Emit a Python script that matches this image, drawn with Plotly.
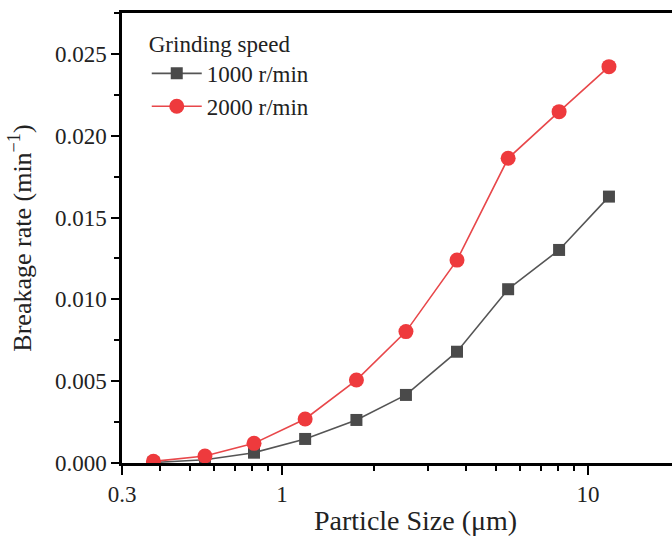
import plotly.graph_objects as go
import math

particle_size = [0.38, 0.56, 0.81, 1.19, 1.75, 2.54, 3.73, 5.48, 8.04, 11.7]
rate_1000 = [0.00003, 0.0002, 0.00063, 0.00147, 0.00263, 0.00416, 0.0068, 0.01062, 0.01302, 0.01628]
rate_2000 = [0.0001, 0.00043, 0.0012, 0.00269, 0.00507, 0.00803, 0.0124, 0.01862, 0.02147, 0.02422]
series_names = ["1000 r/min", "2000 r/min"]
x_ticks = [0.3, 1, 10]
x_minor = [0.4, 0.5, 0.6, 0.7, 0.8, 0.9, 2, 3, 4, 5, 6, 7, 8, 9, 20]
y_ticks = [0.0, 0.005, 0.010, 0.015, 0.020, 0.025]

FONT = "Liberation Serif"

fig = go.Figure()
fig.add_trace(go.Scatter(
    x=particle_size, y=rate_1000, name=series_names[0], mode="lines+markers",
    line=dict(color="#555555", width=1.6),
    marker=dict(symbol="square", size=12, color="#4a4a4a"),
))
fig.add_trace(go.Scatter(
    x=particle_size, y=rate_2000, name=series_names[1], mode="lines+markers",
    line=dict(color="#e8474a", width=1.6),
    marker=dict(symbol="circle", size=15, color="#ee3a3d"),
))

fig.update_layout(
    width=672, height=539,
    margin=dict(l=122, r=0, t=13, b=76),
    paper_bgcolor="white", plot_bgcolor="white",
    font=dict(family=FONT, size=22, color="#222222"),
    showlegend=True,
    legend=dict(
        x=0.045, y=0.98, xanchor="left", yanchor="top",
        title=dict(text="Grinding speed", font=dict(family=FONT, size=23)),
        font=dict(family=FONT, size=23),
        bgcolor="rgba(0,0,0,0)", tracegroupgap=0, itemwidth=50,
    ),
    xaxis=dict(
        type="log", range=[math.log10(0.3), math.log10(18.8)],
        showline=True, linecolor="black", linewidth=2.5, mirror=True,
        showgrid=False, zeroline=False,
        tickmode="array", tickvals=x_ticks, ticktext=["0.3", "1", "10"],
        ticks="outside", ticklen=9, tickwidth=2, tickcolor="black",
        minor=dict(tickmode="array", tickvals=x_minor, ticks="outside", ticklen=5,
                   tickwidth=2, tickcolor="black", showgrid=False),
        tickfont=dict(family=FONT, size=23),
    ),
    yaxis=dict(
        range=[0, 0.0275],
        showline=True, linecolor="black", linewidth=2.5, mirror=False,
        showgrid=False, zeroline=False,
        tickmode="array", tickvals=y_ticks, ticktext=[f"{v:.3f}" for v in y_ticks],
        ticks="outside", ticklen=8, tickwidth=2, tickcolor="black",
        minor=dict(dtick=0.0025, ticks="outside", ticklen=5, tickwidth=2,
                   tickcolor="black", showgrid=False),
        tickfont=dict(family=FONT, size=23),
        title=dict(text="Breakage rate (min<sup>−1</sup>)", font=dict(family=FONT, size=26), standoff=16),
    ),
    annotations=[dict(
        text="Particle Size (μm)", xref="paper", yref="paper",
        x=0.533, y=-0.128, xanchor="center", yanchor="middle", showarrow=False,
        font=dict(family=FONT, size=28, color="#222222"),
    )],
)

fig.write_html("out.html")
